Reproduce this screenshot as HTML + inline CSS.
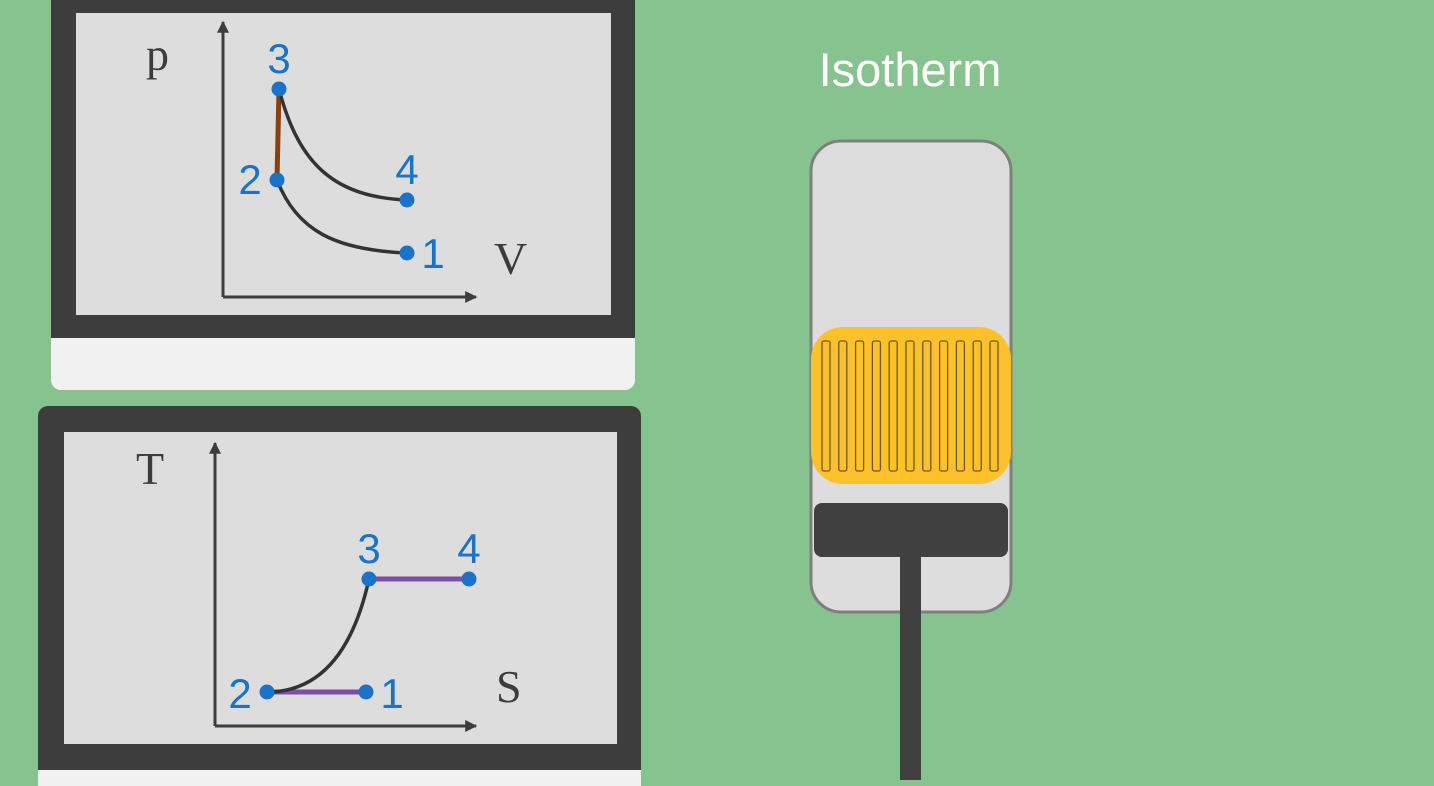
<!DOCTYPE html>
<html><head><meta charset="utf-8"><style>
html,body{margin:0;padding:0;background:#86c38f;}
svg{display:block;}
</style></head><body>
<svg width="1434" height="786" viewBox="0 0 1434 786" style="font-family:'Liberation Sans',sans-serif">
<defs>
<marker id="ar" viewBox="0 0 10 10" refX="9" refY="5" markerWidth="4" markerHeight="4" orient="auto"><path d="M0,0L10,5L0,10z" fill="#3c3c3c"/></marker>
</defs>
<g>
<rect x="51" y="300" width="584" height="90" rx="10" fill="#f1f1f1"/>
<rect x="51" y="-10" width="584" height="348" fill="#3e3d3e"/>
<rect x="76" y="13" width="535" height="302" fill="#dddddd"/>
</g>
<g>
<rect x="38" y="406" width="603" height="380" rx="10" fill="#3e3d3e"/>
<rect x="38" y="770" width="603" height="16" fill="#f1f1f1"/>
<rect x="64" y="432" width="553" height="312" fill="#dddddd"/>
</g>
<g id="pv"></g>
<g id="ts"></g>
<text x="910" y="86" font-size="47" fill="#ffffff" text-anchor="middle">Isotherm</text>
<g>
<rect x="811" y="141" width="200" height="471" rx="30" fill="#dddddd" stroke="#7f7f7f" stroke-width="3"/>
<rect x="811" y="327" width="200" height="157" rx="32" fill="#fdc12a"/>
<g id="slots"></g>
<rect x="900" y="550" width="21" height="230" fill="#414041"/>
<rect x="814" y="503" width="194" height="54" rx="8" fill="#414041"/>
</g>
</svg>
<script>
const NS="http://www.w3.org/2000/svg";
const pvLabels=["1","2","3","4"];
const pvV=[9.2,2.7,2.8,9.2];
const pvP=[2.2,5.85,10.4,4.85];
const tsLabels=["1","2","3","4"];
const tsS=[7.55,2.6,7.7,12.7];
const tsT=[1.7,1.7,7.35,7.35];
function mk(tag,attrs,parent){const e=document.createElementNS(NS,tag);for(const k in attrs)e.setAttribute(k,attrs[k]);parent.appendChild(e);return e;}
function chart(gid,ox,oy,axTop,axRight,xs,ys,labels,xname,yname,xnamePos,ynamePos,segs,lblOff){
  const g=document.getElementById(gid);
  const X=v=>ox+v*20, Y=v=>oy-v*20;
  let a=mk('path',{d:`M${ox},${oy}V${axTop}`,stroke:'#3c3c3c','stroke-width':3,fill:'none','marker-end':'url(#ar)'},g);
  
  
  a=mk('path',{d:`M${ox},${oy}H${axRight}`,stroke:'#3c3c3c','stroke-width':3,fill:'none','marker-end':'url(#ar)'},g);
  
  
  let t=mk('text',{x:ynamePos[0],y:ynamePos[1],'font-size':46,fill:'#3c3c3c',style:"font-family:'Liberation Serif',serif"},g);t.textContent=yname;
  
  
  t=mk('text',{x:xnamePos[0],y:xnamePos[1],'font-size':46,fill:'#3c3c3c',style:"font-family:'Liberation Serif',serif"},g);t.textContent=xname;
  
  
  segs.forEach(s=>{
    const [i,j,col,type]=s;
    const x1=X(xs[i]),y1=Y(ys[i]),x2=X(xs[j]),y2=Y(ys[j]);
    let d;
    if(type==='curveA'){d=`M${x1},${y1}C${x1+20},${y1+(y2-y1)*0.7} ${x1+(x2-x1)*0.45},${y2-3} ${x2},${y2}`;}
    else if(type==='curveB'){d=`M${x1},${y1}Q${x2-25},${y1} ${x2},${y2}`;}
    else d=`M${x1},${y1}L${x2},${y2}`;
    const p=mk('path',{d:d,stroke:col,'stroke-width':type==='line'?5:3.5,fill:'none'},g);
    
    
  });
  xs.forEach((v,i)=>{
    const c=mk('circle',{cx:X(v),cy:Y(ys[i]),r:7.5,fill:'#1a73c8'},g);
    
    
    const o=lblOff[i];
    const tx=mk('text',{x:X(v)+o[0],y:Y(ys[i])+o[1],'font-size':42,fill:'#1a73c8','text-anchor':'middle'},g);
    tx.textContent=labels[i];
    
    
  });
}
chart('pv',223,297,22,476,pvV,pvP,pvLabels,'V','p',[494,274],[146,70],
  [[1,2,'#8b3f10','line'],[2,3,'#333','curveA'],[1,0,'#333','curveA']],
  [[26,15],[-27,14],[0,-16],[0,-16]]);
chart('ts',215,726,443,476,tsS,tsT,tsLabels,'S','T',[496,702],[136,484],
  [[1,0,'#7b4fa8','line'],[2,3,'#7b4fa8','line'],[1,2,'#333','curveB']],
  [[26,16],[-27,16],[0,-16],[0,-16]]);
const slots=document.getElementById('slots');
for(let k=0;k<11;k++){
  const r=mk('rect',{x:822+k*16.8,y:341,width:8,height:130,rx:2,fill:'none',stroke:'#6b5a2a','stroke-width':1.3},slots);
  
  
}
</script>
</body></html>
